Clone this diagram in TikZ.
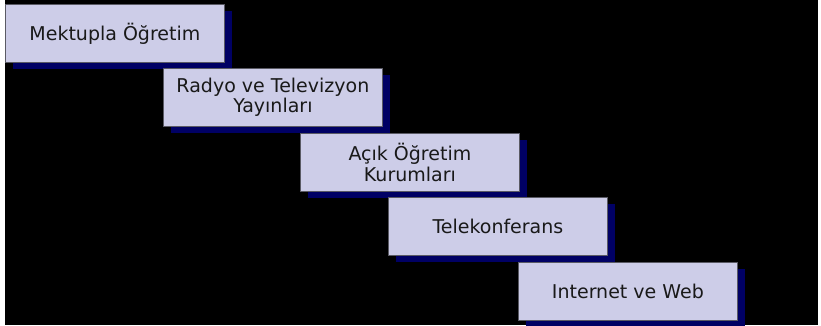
\documentclass[tikz,border=0pt]{standalone}
\usepackage{fontspec}
\setmainfont{DejaVu Sans}
\definecolor{boxfill}{RGB}{205,205,232}
\definecolor{boxline}{RGB}{90,90,100}
\definecolor{shadowc}{RGB}{0,0,100}
\tikzset{
  stage/.style={draw=boxline, line width=0.8pt, fill=boxfill, minimum width=219pt, minimum height=58pt,
    inner sep=0pt, align=center, font=\fontsize{19}{20.5}\selectfont, text=black!90,
    anchor=north west},
  shade/.style={fill=shadowc, draw=none}
}
\begin{document}
\begin{tikzpicture}[x=1pt,y=-1pt]
\useasboundingbox (0,0) rectangle (821,325);
\fill[white] (0,0) rectangle (821,325);
\fill[black] (5,0) rectangle (818,325);
% shadows
\foreach \x/\y in {5/4,163/68,300/133,388/197,518/262}{
  \fill[shade] (\x+8,\y+7) rectangle (\x+227,\y+65);
}
\node[stage] (a) at (5,4) {Mektupla Öğretim};
\node[stage] (b) at (163,68) {Radyo ve Televizyon\\Yayınları};
\node[stage] (c) at (300,133) {Açık Öğretim\\Kurumları};
\node[stage] (d) at (388,197) {Telekonferans};
\node[stage] (e) at (518,262) {Internet ve Web};
\end{tikzpicture}
\end{document}
